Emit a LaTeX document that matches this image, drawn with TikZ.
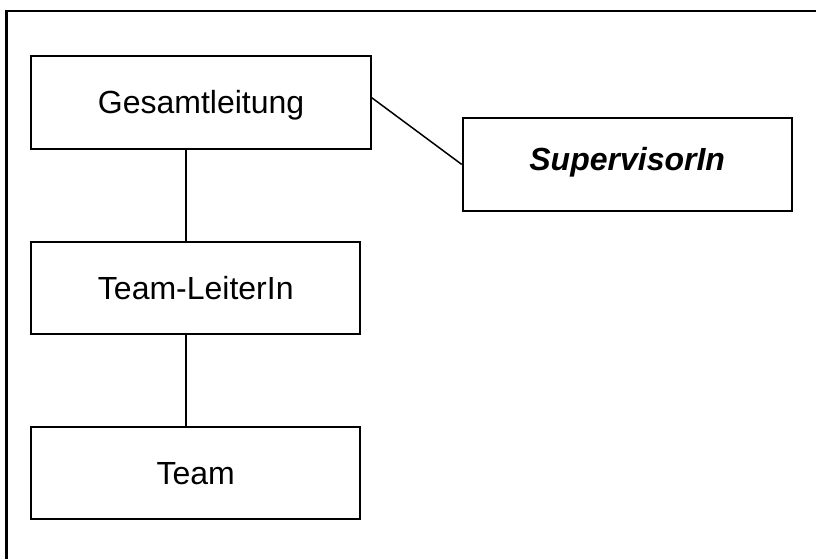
\documentclass[tikz,border=0pt]{standalone}
\usepackage{fontspec}
\setmainfont{Liberation Sans}
\begin{document}
\begin{tikzpicture}[x=1bp,y=-1bp,
  boxnode/.style={draw, line width=2bp, rectangle, inner sep=0pt,
    font=\fontsize{32bp}{38bp}\selectfont, text height=23bp, text depth=0bp},
  conn/.style={line width=1.5bp},
  framestyle/.style={line width=2.2bp}]
\useasboundingbox (0,0) rectangle (816,559);
\draw[framestyle] (6.5,559) -- (6.5,11) -- (816,11);
\node[boxnode, minimum width=339.2bp, minimum height=93bp] (G) at (201.1,102.5) {Gesamtleitung};
\node[boxnode, minimum width=329bp, minimum height=92.7bp, text depth=11.6bp,
  font=\fontsize{32bp}{38bp}\selectfont\bfseries\itshape] (S) at (627.2,164.4) {SupervisorIn};
\node[boxnode, minimum width=328.5bp, minimum height=92.6bp] (TL) at (195.75,288) {Team-LeiterIn};
\node[boxnode, minimum width=328.5bp, minimum height=92.3bp] (T) at (195.75,472.9) {Team};
\coordinate (spine) at (186,0);
\draw[conn] (spine |- G.south) -- (spine |- TL.north);
\draw[conn] (spine |- TL.south) -- (spine |- T.north);
\draw[conn] ([yshift=4.8bp]G.east) -- (S.west);
\end{tikzpicture}
\end{document}
